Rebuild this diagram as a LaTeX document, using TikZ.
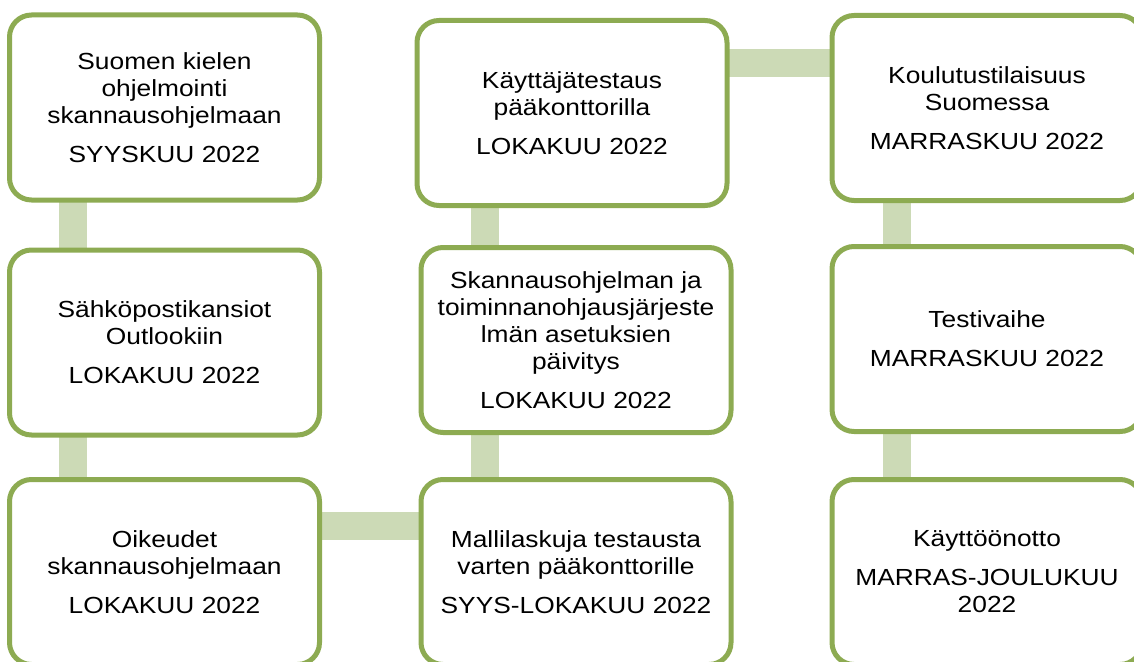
\documentclass[tikz,border=0pt]{standalone}
\usepackage{fontspec}
\setmainfont{Liberation Sans}[FakeStretch=1.13]
\usetikzlibrary{backgrounds}

\definecolor{boxgreen}{RGB}{141,171,82}
\definecolor{linkgreen}{RGB}{204,218,182}

\tikzset{
    phasebox/.style={draw=boxgreen, line width=5pt, rounded corners=22pt, fill=white,
        minimum width=310pt, minimum height=185pt, inner sep=0pt, align=center,
        font=\fontsize{23.3}{27}\selectfont},
    link/.style={draw=linkgreen, line width=28pt}
}

\begin{document}
\begin{tikzpicture}[x=1pt,y=-1pt]
        \useasboundingbox (0,0) rectangle (1134,661);

        % left column
        \node[phasebox] (kieli) at (164.5,107.5) {Suomen kielen\\ohjelmointi\\skannausohjelmaan\\[12pt]SYYSKUU 2022};
        \node[phasebox] (kansiot) at (164.5,342.5) {Sähköpostikansiot\\Outlookiin\\[12pt]LOKAKUU 2022};
        \node[phasebox] (oikeudet) at (164.5,572) {Oikeudet\\skannausohjelmaan\\[12pt]LOKAKUU 2022};

        % middle column
        \node[phasebox] (malli) at (576,572) {Mallilaskuja testausta\\varten pääkonttorille\\[12pt]SYYS-LOKAKUU 2022};
        \node[phasebox] (asetukset) at (576,340) {Skannausohjelman ja\\toiminnanohjausjärjeste\\lmän asetuksien\\päivitys\\[12pt]LOKAKUU 2022};
        \node[phasebox] (testaus) at (572,113) {Käyttäjätestaus\\pääkonttorilla\\[12pt]LOKAKUU 2022};

        % right column
        \node[phasebox] (koulutus) at (987,108) {Koulutustilaisuus\\Suomessa\\[12pt]MARRASKUU 2022};
        \node[phasebox] (testi) at (987,339) {Testivaihe\\[12pt]MARRASKUU 2022};
        \node[phasebox] (kaytto) at (987,572) {Käyttöönotto\\[12pt]MARRAS-JOULUKUU\\2022};

        % links behind the boxes
        \begin{scope}[on background layer]
            \draw[link] ([xshift=-91.5pt]kieli.center) -- ([xshift=-91.5pt]kansiot.center);
            \draw[link] ([xshift=-91.5pt]kansiot.center) -- ([xshift=-91.5pt]oikeudet.center);
            \draw[link] ([yshift=46pt]oikeudet.center) -- ([yshift=46pt]malli.center);
            \draw[link] ([xshift=-91pt]malli.center) -- ([xshift=-91pt]asetukset.center);
            \draw[link] ([xshift=-91pt]asetukset.center) -- ([xshift=-91pt]asetukset.center |- testaus.center);
            \draw[link] ([yshift=50pt]testaus.center) -- ([yshift=50pt]testaus.center -| koulutus.center);
            \draw[link] ([xshift=-90pt]koulutus.center) -- ([xshift=-90pt]testi.center);
            \draw[link] ([xshift=-90pt]testi.center) -- ([xshift=-90pt]kaytto.center);
        \end{scope}
\end{tikzpicture}
\end{document}
